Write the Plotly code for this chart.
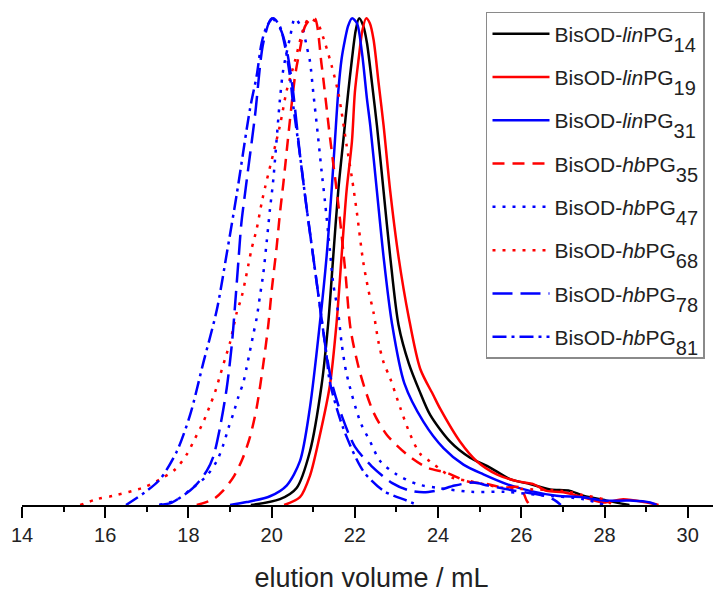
import plotly.graph_objects as go

# ---- data ----
lin14_x = [19.5, 20.2, 20.6, 20.92, 21.2, 21.36, 21.48, 21.6, 21.72, 21.84, 21.93, 22.02, 22.1, 22.2, 22.29, 22.41, 22.53, 22.69, 22.85, 23.05, 23.3, 23.55, 23.81, 24.29, 24.77, 25.25, 25.73, 26.21, 26.69, 27.17, 27.49, 28.05, 28.6]
lin14_y = [0.0, 0.012, 0.035, 0.11, 0.246, 0.374, 0.51, 0.645, 0.747, 0.848, 0.916, 0.975, 1.0, 0.985, 0.95, 0.868, 0.78, 0.645, 0.51, 0.37, 0.29, 0.235, 0.185, 0.13, 0.097, 0.077, 0.053, 0.043, 0.032, 0.029, 0.019, 0.009, 0.0]

lin19_x = [20.3, 20.68, 20.92, 21.15, 21.4, 21.56, 21.68, 21.8, 21.93, 22.0, 22.09, 22.18, 22.27, 22.36, 22.45, 22.57, 22.69, 22.85, 23.05, 23.29, 23.57, 23.89, 24.05, 24.53, 24.93, 25.41, 25.89, 26.29, 26.61, 27.01, 27.49, 27.97, 28.45, 29.02, 29.3]
lin19_y = [0.0, 0.016, 0.06, 0.14, 0.246, 0.374, 0.51, 0.645, 0.747, 0.848, 0.916, 0.975, 1.0, 0.99, 0.956, 0.868, 0.78, 0.645, 0.51, 0.388, 0.28, 0.225, 0.198, 0.13, 0.09, 0.063, 0.049, 0.043, 0.029, 0.026, 0.016, 0.005, 0.012, 0.005, 0.0]

lin31_x = [19.0, 19.4, 19.96, 20.36, 20.68, 20.92, 21.16, 21.32, 21.44, 21.52, 21.6, 21.68, 21.76, 21.84, 21.93, 22.05, 22.17, 22.29, 22.37, 22.53, 22.69, 22.89, 23.19, 23.65, 24.13, 24.61, 25.09, 25.65, 26.21, 26.85, 27.49, 27.97, 28.62, 29.1, 29.25]
lin31_y = [0.0, 0.006, 0.018, 0.04, 0.09, 0.2, 0.374, 0.51, 0.645, 0.747, 0.848, 0.916, 0.955, 0.985, 1.0, 0.99, 0.93, 0.835, 0.78, 0.645, 0.51, 0.374, 0.25, 0.171, 0.117, 0.083, 0.063, 0.043, 0.029, 0.019, 0.016, 0.009, 0.009, 0.005, 0.0]

hb35_x = [18.2, 18.6, 18.84, 19.1, 19.3, 19.48, 19.64, 19.8, 19.92, 20.0, 20.12, 20.2, 20.28, 20.56, 20.68, 20.8, 20.95, 21.04, 21.2, 21.4, 21.6, 21.77, 21.9, 22.13, 22.45, 22.77, 23.25, 23.73, 24.21, 24.69, 25.17, 25.57, 25.97, 26.13, 26.2]
hb35_y = [0.0, 0.012, 0.03, 0.06, 0.095, 0.14, 0.2, 0.29, 0.37, 0.44, 0.53, 0.6, 0.66, 0.88, 0.936, 0.983, 1.0, 1.0, 0.905, 0.757, 0.62, 0.48, 0.36, 0.27, 0.19, 0.144, 0.104, 0.077, 0.066, 0.049, 0.043, 0.036, 0.036, 0.009, 0.0]

hb47_x = [17.3, 17.7, 18.1, 18.44, 18.68, 18.84, 18.96, 19.08, 19.2, 19.32, 19.4, 19.48, 19.56, 19.64, 19.72, 19.8, 19.88, 19.96, 20.04, 20.2, 20.28, 20.44, 20.56, 20.76, 20.84, 20.92, 21.0, 21.12, 21.2, 21.28, 21.4, 21.48, 21.6, 21.68, 21.8, 22.13, 22.37, 22.61, 23.0, 23.49, 24.0, 24.8, 25.6, 26.5, 27.5, 28.0]
hb47_y = [0.0, 0.01, 0.035, 0.06, 0.09, 0.124, 0.158, 0.188, 0.222, 0.252, 0.283, 0.317, 0.351, 0.384, 0.43, 0.476, 0.54, 0.608, 0.669, 0.834, 0.895, 0.96, 1.0, 0.973, 0.943, 0.912, 0.848, 0.753, 0.686, 0.625, 0.523, 0.455, 0.395, 0.334, 0.27, 0.171, 0.13, 0.09, 0.063, 0.043, 0.035, 0.027, 0.027, 0.02, 0.012, 0.0]

hb68_x = [15.4, 15.8, 16.2, 16.92, 17.32, 17.68, 17.96, 18.16, 18.36, 18.52, 18.64, 18.76, 18.88, 19.0, 19.08, 19.16, 19.28, 19.36, 19.44, 19.52, 19.64, 19.76, 19.84, 20.2, 20.36, 20.56, 20.76, 20.9, 21.1, 21.28, 21.45, 21.6, 21.68, 21.8, 21.93, 22.05, 22.2, 22.33, 22.45, 22.57, 22.69, 22.85, 23.09, 23.33, 23.57, 23.8, 24.0, 24.35, 24.77, 25.5, 26.0, 27.0, 27.5, 27.97, 28.2]
hb68_y = [0.0, 0.012, 0.019, 0.036, 0.053, 0.073, 0.104, 0.137, 0.171, 0.205, 0.232, 0.266, 0.3, 0.334, 0.364, 0.395, 0.428, 0.459, 0.493, 0.527, 0.567, 0.621, 0.652, 0.78, 0.851, 0.912, 0.977, 1.0, 0.99, 0.95, 0.9, 0.848, 0.808, 0.74, 0.672, 0.6, 0.5, 0.44, 0.395, 0.334, 0.293, 0.26, 0.2, 0.145, 0.105, 0.09, 0.077, 0.056, 0.049, 0.036, 0.033, 0.029, 0.02, 0.012, 0.0]

hb78_x = [17.3, 17.6, 18.04, 18.2, 18.44, 18.6, 18.76, 18.92, 19.04, 19.12, 19.2, 19.27, 19.36, 19.6, 19.8, 20.0, 20.2, 20.35, 20.5, 20.68, 20.84, 21.0, 21.16, 21.32, 21.45, 21.7, 22.0, 22.4, 22.9, 23.3, 23.65, 24.0, 24.4, 24.85, 25.2, 25.8, 26.5, 26.8, 26.95]
hb78_y = [0.0, 0.005, 0.03, 0.043, 0.07, 0.1, 0.16, 0.24, 0.327, 0.41, 0.5, 0.577, 0.64, 0.8, 0.95, 1.0, 0.98, 0.94, 0.86, 0.72, 0.611, 0.51, 0.408, 0.31, 0.25, 0.18, 0.12, 0.08, 0.045, 0.03, 0.026, 0.03, 0.04, 0.046, 0.04, 0.03, 0.02, 0.01, 0.0]

hb81_x = [16.5, 17.0, 17.32, 17.72, 18.04, 18.36, 18.68, 18.92, 19.16, 19.48, 19.64, 19.76, 19.88, 20.04, 20.2, 20.32, 20.44, 20.52, 20.68, 20.84, 21.0, 21.16, 21.32, 21.4, 21.72, 22.2, 22.69, 23.25, 23.5]
hb81_y = [0.0, 0.029, 0.053, 0.11, 0.185, 0.293, 0.4, 0.516, 0.638, 0.814, 0.882, 0.95, 0.983, 1.0, 0.983, 0.943, 0.882, 0.82, 0.72, 0.611, 0.51, 0.408, 0.307, 0.252, 0.158, 0.07, 0.029, 0.009, 0.0]

tick_vals = [14, 16, 18, 20, 22, 24, 26, 28, 30]
tick_text = ["14", "16", "18", "20", "22", "24", "26", "28", "30"]

def lab(kind, n):
    return ('BisOD-<i>%s</i>PG<span style="font-size:20px;baseline-shift:-10px">%s</span>'
            % (kind, n))

series = [
    (lab("lin", "14"), lin14_x, lin14_y, "black", "solid"),
    (lab("lin", "19"), lin19_x, lin19_y, "#ff0000", "solid"),
    (lab("lin", "31"), lin31_x, lin31_y, "#0000ff", "solid"),
    (lab("hb", "35"), hb35_x, hb35_y, "#ff0000", "12px,8px"),
    (lab("hb", "47"), hb47_x, hb47_y, "#0000ff", "3px,7px"),
    (lab("hb", "68"), hb68_x, hb68_y, "#ff0000", "3px,7px"),
    (lab("hb", "78"), hb78_x, hb78_y, "#0000ff", "20px,8px"),
    (lab("hb", "81"), hb81_x, hb81_y, "#0000ff", "14px,5px,3px,5px"),
]

fig = go.Figure()
for i, (name, xs, ys, col, dash) in enumerate(series):
    fig.add_trace(go.Scatter(
        x=xs, y=ys, mode="lines", name=name, legendgroup="g%d" % i,
        line=dict(color=col, width=2.5, dash=dash, shape="spline", smoothing=0.8),
    ))

# page body adds an 8px offset, so the figure is 8px smaller than the window
fig.update_layout(
    width=713, height=585,
    margin=dict(l=14, r=0, t=0, b=82),
    paper_bgcolor="white", plot_bgcolor="white",
    font=dict(family="Liberation Sans, Arial, sans-serif", color="black"),
    showlegend=True,
    legend=dict(
        x=0.6638, y=0.992, xanchor="left", yanchor="top",
        bgcolor="white", bordercolor="#8a8a8a", borderwidth=1.5,
        font=dict(size=21, color="#222222"),
        tracegroupgap=13, itemwidth=57,
    ),
)
fig.update_xaxes(
    range=[14, 30.8], showline=True, linecolor="black", linewidth=2,
    ticks="outside", ticklen=11, tickwidth=2, tickcolor="black",
    tickvals=tick_vals, ticktext=tick_text,
    tickfont=dict(size=20, color="#222222"),
    minor=dict(dtick=1, tick0=14, ticks="outside", ticklen=5, tickwidth=2, tickcolor="black", showgrid=False),
    showgrid=False, zeroline=False,
    title=dict(text="elution volume / mL", font=dict(size=27, color="#222222"), standoff=28),
)
fig.update_yaxes(visible=False, range=[0, 1.0213], showgrid=False, zeroline=False)

fig.write_html("out.html")
